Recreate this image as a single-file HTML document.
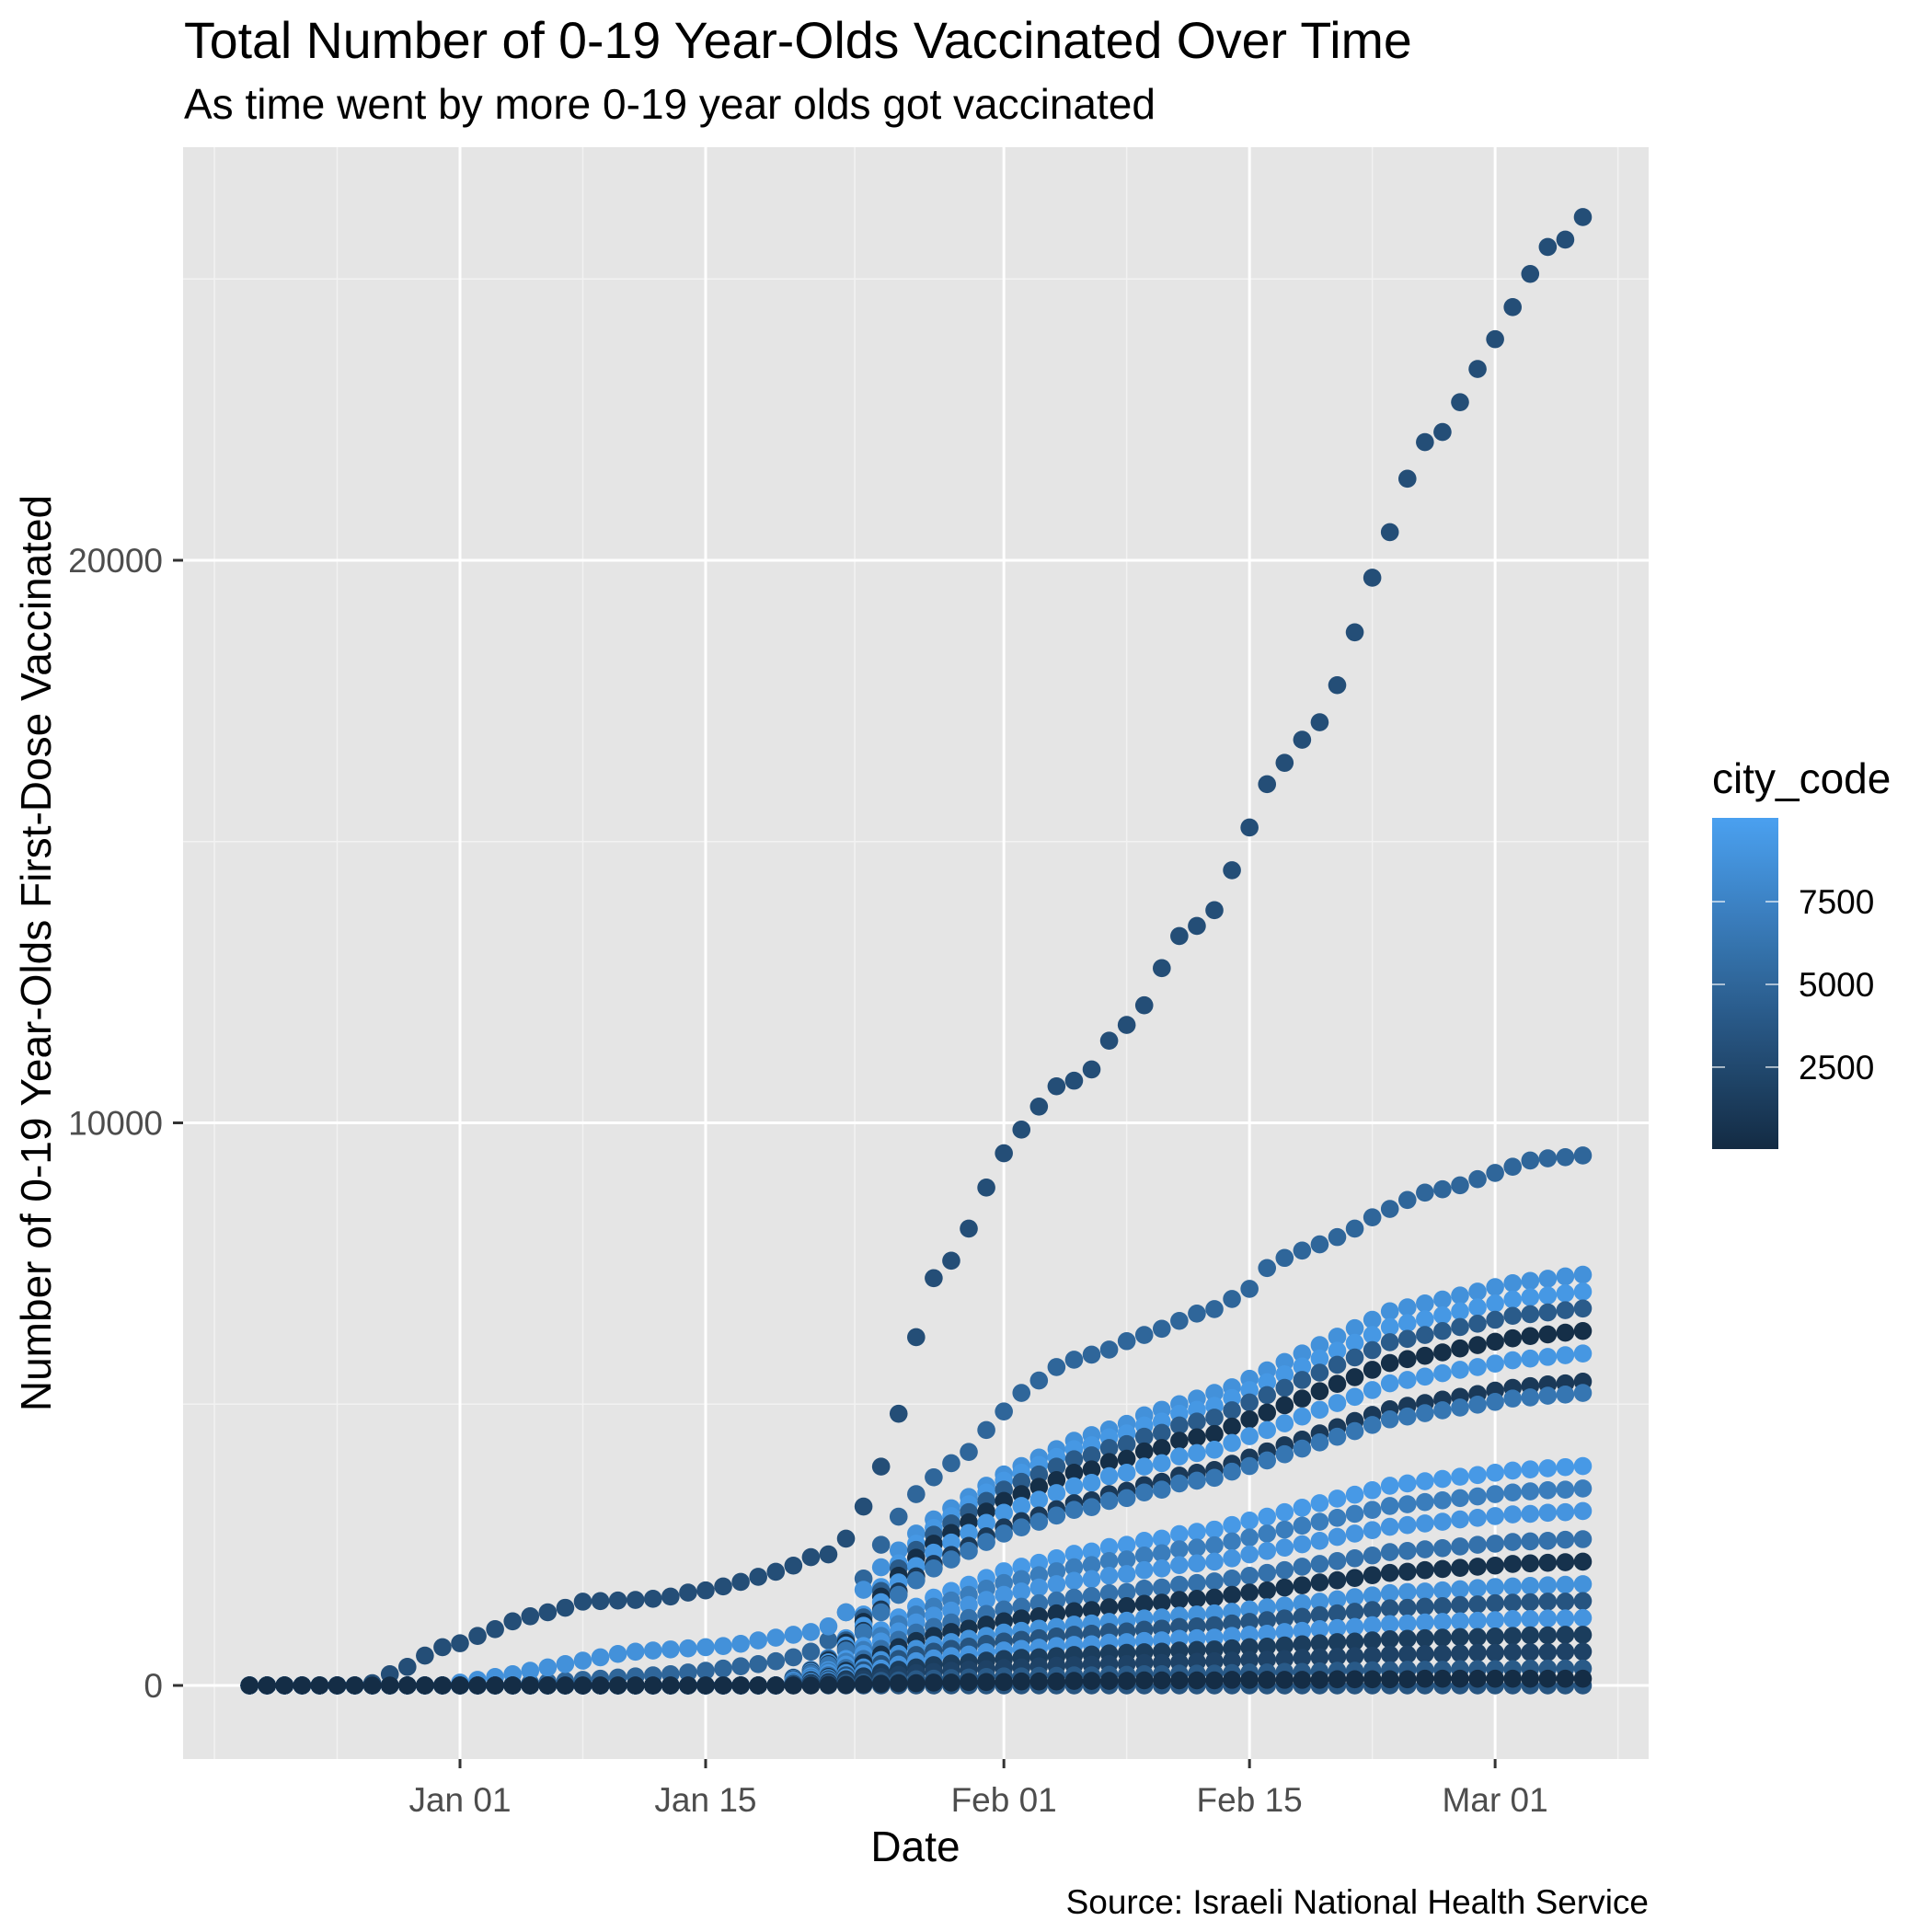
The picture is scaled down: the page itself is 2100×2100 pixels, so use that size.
<!DOCTYPE html>
<html><head><meta charset="utf-8"><style>
html,body{margin:0;padding:0;background:#fff}
svg{display:block;font-family:"Liberation Sans",Arial,sans-serif}
</style></head><body>
<svg id="chart" width="2100" height="2100" viewBox="0 0 2100 2100">
<rect width="2100" height="2100" fill="#fff"/>
<text x="200" y="63" font-size="55.5" fill="#000">Total Number of 0-19 Year-Olds Vaccinated Over Time</text>
<text x="200" y="129" font-size="46" fill="#000">As time went by more 0-19 year olds got vaccinated</text>
<rect x="199" y="160" width="1593" height="1752" fill="#e5e5e5"/>
<g id="grid"></g>
<g id="points"></g>
<g id="axes"></g>
<text x="995" y="2023" font-size="46" text-anchor="middle" fill="#000">Date</text>
<text transform="translate(55,1036) rotate(-90)" font-size="46" text-anchor="middle" fill="#000">Number of 0-19 Year-Olds First-Dose Vaccinated</text>
<text x="1792" y="2080" font-size="37" text-anchor="end" fill="#000">Source: Israeli National Health Service</text>
<g id="legend">
<text x="1861" y="862" font-size="46" fill="#000">city_code</text>
</g>
</svg>
<script>
const NS="http://www.w3.org/2000/svg";
const dateStart="2020-12-20";
const numDates=77;
const xTickLabels=["Jan 01","Jan 15","Feb 01","Feb 15","Mar 01"];
const xTickDays=[0,14,31,45,59];
const xMinorDays=[-14,-7,7,22.5,38,52,66];
const yTickValues=[0,10000,20000];
const yMinorValues=[5000,15000,25000];
const legendTicks=[2500,5000,7500];
const Z7=[0,0,0,0,0,0,0],Z12=[0,0,0,0,0,0,0,0,0,0,0,0];
const Z31=[0,0,0,0,0,0,0,0,0,0,0,0,0,0,0,0,0,0,0,0,0,0,0,0,0,0,0,0,0,0,0];
const cityCodes=[3600,5000,8700,9300,4100,300,9200,1200,6400,9400,7000,9000,6000,600,8800,3500,9000,1500,2000,4000,200];
const s3000=Z7.concat([40,200,330,530,680,750,880,1000,1140,1230,1300,1380,1490,1500,1510,1520,1540,1580,1650,1690,1760,1840,1930,2020,2130,2280,2330,2610,3180,3890,4830,6190,7240,7550,8120,8850,9460,9880,10290,10650,10750,10950,11460,11740,12090,12750,13320,13500,13780,14490,15250,16020,16400,16810,17120,17780,18720,19690,20500,21450,22100,22280,22810,23400,23930,24500,25090,25570,25700,26100]);
const seriesValues=[
Z31.concat(Z31,[0,0,0,0,0,0,0,0,0,0,0,0,0,0,0]),
Z12.concat([0,0,0,20,40,60,80,100,120,140,160,180,200,230,260,300,340,380,430,500,600,800,1300,1900,2500,3000,3400,3700,3950,4150,4540,4870,5200,5420,5660,5790,5880,5970,6120,6230,6340,6480,6610,6690,6870,7050,7420,7600,7730,7840,7970,8120,8320,8470,8630,8760,8820,8890,9000,9110,9220,9330,9370,9390,9420]),
Z12.concat([50,100,150,200,260,320,380,440,500,560,600,620,640,660,680,700,740,800,850,900,950,1050,1300,1700,2100,2400,2700,2950,3150,3350,3550,3750,3900,4050,4200,4350,4450,4550,4650,4800,4900,5000,5100,5200,5300,5450,5600,5750,5900,6050,6200,6350,6500,6650,6720,6790,6860,6930,7000,7080,7150,7190,7230,7270,7300]),
Z31.concat([140,280,490,840,1260,1750,2170,2520,2800,3010,3220,3430,3640,3780,3920,4060,4200,4270,4410,4480,4620,4690,4830,4900,4970,5110,5250,5390,5530,5670,5810,5950,6090,6230,6370,6440,6510,6580,6650,6720,6790,6860,6900,6930,6970,7000]),
Z31.concat([130,270,470,800,1210,1680,2080,2410,2680,2880,3080,3280,3480,3620,3750,3890,4020,4090,4220,4290,4420,4490,4620,4690,4760,4890,5030,5160,5290,5430,5560,5700,5830,5960,6100,6160,6230,6300,6370,6430,6500,6570,6600,6630,6670,6700]),
Z31.concat([130,250,440,760,1130,1580,1950,2270,2520,2710,2900,3090,3280,3400,3530,3650,3780,3840,3970,4030,4160,4220,4350,4410,4470,4600,4730,4850,4980,5100,5230,5360,5480,5610,5730,5800,5860,5920,5990,6050,6110,6170,6210,6240,6270,6300]),
Z31.concat([120,240,410,710,1060,1480,1830,2120,2360,2540,2710,2890,3070,3190,3300,3420,3540,3600,3720,3780,3890,3950,4070,4130,4190,4310,4430,4540,4660,4780,4900,5020,5130,5250,5370,5430,5490,5550,5610,5660,5720,5780,5810,5840,5870,5900]),
Z31.concat([110,220,380,650,970,1350,1670,1940,2160,2320,2480,2650,2810,2920,3020,3130,3240,3290,3400,3460,3560,3620,3730,3780,3830,3940,4050,4160,4270,4370,4480,4590,4700,4810,4910,4970,5020,5080,5130,5180,5240,5290,5320,5350,5370,5400]),
Z31.concat([100,210,360,620,940,1300,1610,1870,2080,2240,2390,2550,2700,2810,2910,3020,3120,3170,3280,3330,3430,3480,3590,3640,3690,3800,3900,4000,4110,4210,4320,4420,4520,4630,4730,4780,4840,4890,4940,4990,5040,5100,5120,5150,5170,5200]),
Z31.concat([80,160,270,470,700,980,1210,1400,1560,1680,1790,1910,2030,2110,2180,2260,2340,2380,2460,2500,2570,2610,2690,2730,2770,2850,2930,3000,3080,3160,3240,3320,3390,3470,3550,3590,3630,3670,3710,3740,3780,3820,3840,3860,3880,3900]),
Z31.concat([70,140,250,420,630,880,1090,1260,1400,1510,1610,1720,1820,1890,1960,2030,2100,2140,2210,2240,2310,2350,2420,2450,2490,2560,2630,2700,2770,2840,2910,2980,3050,3120,3190,3220,3260,3290,3330,3360,3400,3430,3450,3470,3480,3500]),
Z31.concat([60,120,220,370,560,780,960,1120,1240,1330,1430,1520,1610,1670,1740,1800,1860,1890,1950,1980,2050,2080,2140,2170,2200,2260,2330,2390,2450,2510,2570,2640,2700,2760,2820,2850,2880,2910,2950,2980,3010,3040,3050,3070,3080,3100]),
Z31.concat([50,100,180,310,470,650,810,940,1040,1120,1200,1270,1350,1400,1460,1510,1560,1590,1640,1660,1720,1740,1790,1820,1850,1900,1950,2000,2050,2110,2160,2210,2260,2310,2370,2390,2420,2440,2470,2500,2520,2550,2560,2570,2590,2600]),
Z31.concat([40,90,150,260,400,550,680,790,880,950,1010,1080,1140,1190,1230,1280,1320,1340,1390,1410,1450,1470,1520,1540,1560,1610,1650,1690,1740,1780,1830,1870,1910,1960,2000,2020,2050,2070,2090,2110,2130,2160,2170,2180,2190,2200]),
Z31.concat([40,70,130,220,320,450,560,650,720,770,830,880,940,970,1010,1040,1080,1100,1130,1150,1190,1210,1240,1260,1280,1310,1350,1390,1420,1460,1490,1530,1570,1600,1640,1660,1670,1690,1710,1730,1750,1760,1770,1780,1790,1800]),
Z31.concat([30,60,110,180,270,380,470,540,600,650,690,740,780,810,840,870,900,920,950,960,990,1010,1040,1050,1070,1100,1130,1160,1190,1220,1250,1280,1310,1340,1370,1380,1400,1410,1430,1440,1460,1470,1480,1490,1490,1500]),
Z31.concat([20,50,80,140,220,300,370,430,480,520,550,590,620,650,670,700,720,730,760,770,790,800,830,840,850,880,900,920,950,970,1000,1020,1040,1070,1090,1100,1120,1130,1140,1150,1160,1180,1180,1190,1190,1200]),
Z31.concat([20,40,60,110,160,230,280,320,360,390,410,440,470,490,500,520,540,550,570,580,590,600,620,630,640,660,680,690,710,730,750,770,780,800,820,830,840,850,860,860,870,880,890,890,900,900]),
Z31.concat([10,20,40,70,110,150,190,220,240,260,280,290,310,320,340,350,360,370,380,380,400,400,410,420,430,440,450,460,470,490,500,510,520,530,550,550,560,560,570,580,580,590,590,590,600,600]),
Z31.concat([10,10,20,40,50,80,90,110,120,130,140,150,160,160,170,170,180,180,190,190,200,200,210,210,210,220,230,230,240,240,250,260,260,270,270,280,280,280,290,290,290,290,300,300,300,300]),
Z31.concat([0,0,10,10,20,30,40,40,50,50,60,60,60,70,70,70,80,80,80,80,90,90,90,90,90,100,100,100,100,100,100,110,110,110,110,110,120,120,120,120,120,120,120,120,120,120])
];
const topCityCode=3000;

const X0=500, PX_PER_DAY=19.07;
function xDay(d){return X0+d*PX_PER_DAY;}
const Y0=1832, PX_PER_UNIT=0.06115;
function yVal(v){return Y0-v*PX_PER_UNIT;}
const LOW=[19,43,67], HIGH=[74,160,240];
function color(c){const t=Math.max(0,Math.min(1,c/10000));
 const r=LOW.map((l,i)=>Math.round(l+(HIGH[i]-l)*t));return `rgb(${r[0]},${r[1]},${r[2]})`;}
function el(tag,attrs,parent){const e=document.createElementNS(NS,tag);for(const k in attrs)e.setAttribute(k,attrs[k]);parent.appendChild(e);return e;}

const grid=document.getElementById('grid'), axes=document.getElementById('axes'), pts=document.getElementById('points');
const PL=199,PR=1792,PT=160,PB=1912;
xMinorDays.forEach(d=>{const l=el('line',{x1:xDay(d),x2:xDay(d),y1:PT,y2:PB,stroke:'#f2f2f2','stroke-width':1.5},grid);

});
yMinorValues.forEach(v=>{const l=el('line',{x1:PL,x2:PR,y1:yVal(v),y2:yVal(v),stroke:'#f2f2f2','stroke-width':1.5},grid);

});
xTickDays.forEach((d,i)=>{const l=el('line',{x1:xDay(d),x2:xDay(d),y1:PT,y2:PB,stroke:'#fff','stroke-width':3},grid);


const t=el('line',{x1:xDay(d),x2:xDay(d),y1:PB,y2:PB+10,stroke:'#333','stroke-width':3},axes);


const tx=el('text',{x:xDay(d),y:1969,'font-size':37,'text-anchor':'middle',fill:'#4d4d4d'},axes);tx.textContent=xTickLabels[i];

});
yTickValues.forEach(v=>{const l=el('line',{x1:PL,x2:PR,y1:yVal(v),y2:yVal(v),stroke:'#fff','stroke-width':3},grid);


const t=el('line',{x1:PL-11,x2:PL,y1:yVal(v),y2:yVal(v),stroke:'#333','stroke-width':3},axes);


const tx=el('text',{x:177,y:yVal(v)+13,'font-size':37,'text-anchor':'end',fill:'#4d4d4d'},axes);tx.textContent=String(v);

});

function drawSeries(vals,code){const col=color(code);
 vals.forEach((v,i)=>{const c=el('circle',{cx:xDay(i-12),cy:yVal(v),r:9.8,fill:col},pts);
 
 });}
drawSeries(s3000,topCityCode);
seriesValues.forEach((vals,k)=>drawSeries(vals,cityCodes[k]));

const lg=document.getElementById('legend');
const LT=889,LB=1249,LX=1861,LW=72,CMIN=25,CMAX=10030;
function yLeg(c){return LB-(c-CMIN)/(CMAX-CMIN)*(LB-LT);}
const defs=el('defs',{},lg);const gr=el('linearGradient',{id:'lgrad',x1:0,y1:1,x2:0,y2:0},defs);
for(let i=0;i<=10;i++){const c=CMIN+(CMAX-CMIN)*i/10;el('stop',{offset:i/10,'stop-color':color(c)},gr);}
const bar=el('rect',{x:LX,y:LT,width:LW,height:LB-LT,fill:'url(#lgrad)'},lg);


legendTicks.forEach(c=>{const y=yLeg(c);
 el('line',{x1:LX,x2:LX+14,y1:y,y2:y,stroke:'#fff','stroke-width':1.5,opacity:0.8},lg);
 el('line',{x1:LX+LW-14,x2:LX+LW,y1:y,y2:y,stroke:'#fff','stroke-width':1.5,opacity:0.8},lg);
 const t=el('text',{x:1955,y:y+13,'font-size':37,fill:'#000'},lg);t.textContent=String(c);
 
 });
</script>
</body></html>
